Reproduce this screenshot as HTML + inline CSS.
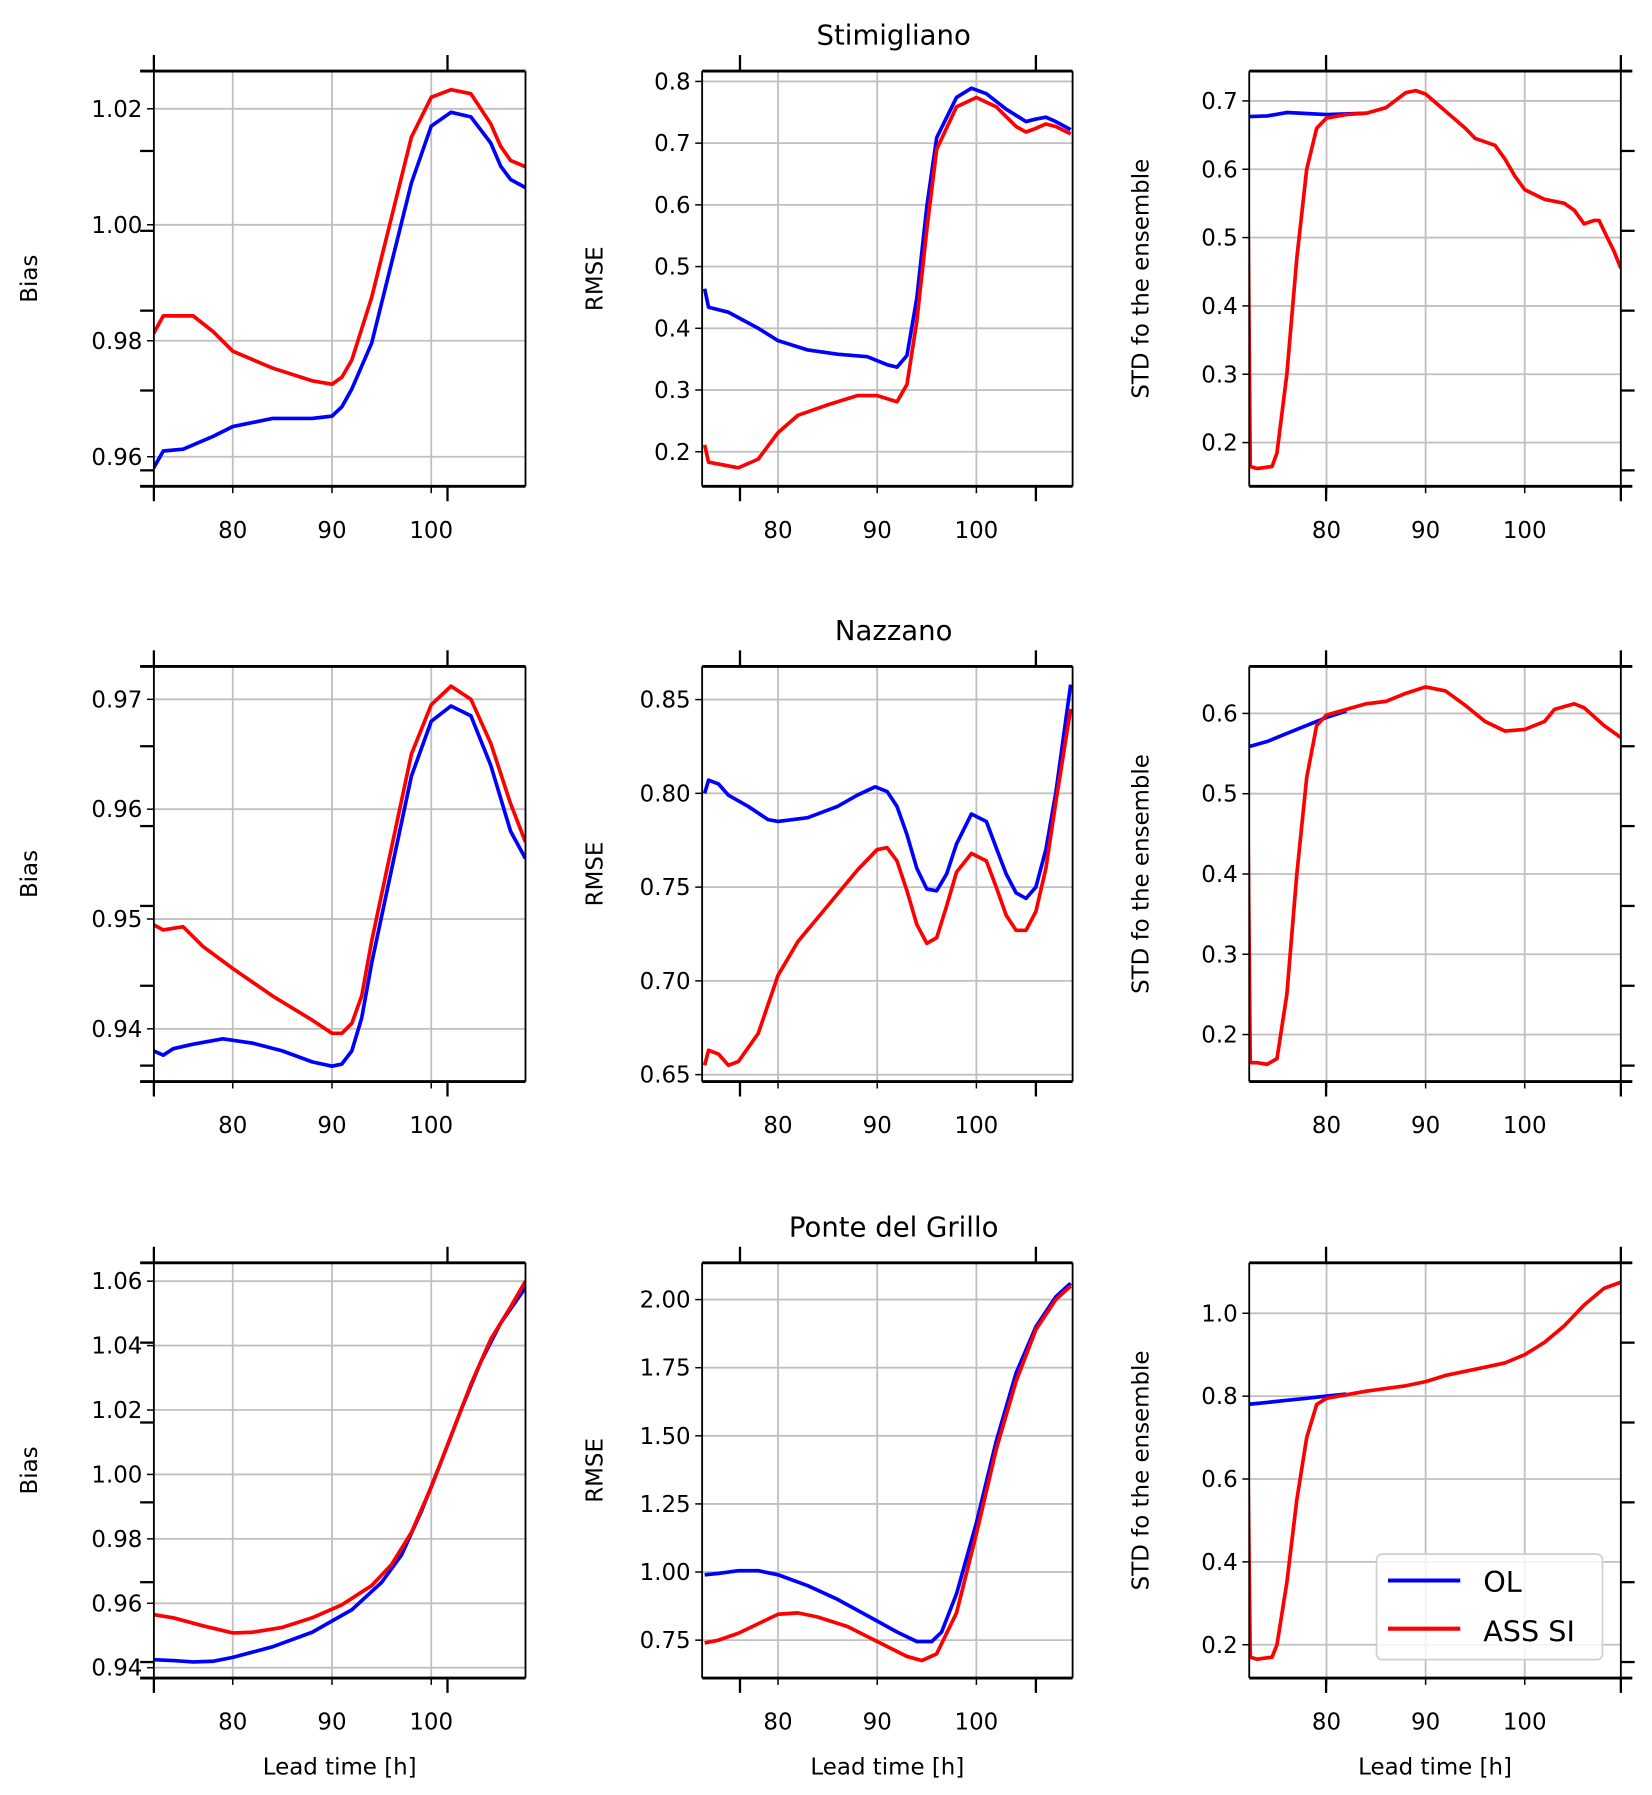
<!DOCTYPE html>
<html><head><meta charset="utf-8"><style>
html,body{margin:0;padding:0;background:#fff;}
svg{display:block;font-family:"DejaVu Sans","Liberation Sans",sans-serif;}
</style></head><body>
<svg id="fig" width="1652" height="1795" viewBox="0 0 1440 1565" xmlns="http://www.w3.org/2000/svg"></svg>
<script>
// ---- data (hours, values) ----
const s1BiasOLx=[72,73,75,78,80,84,88,90,91,92,94,96,98,100,102,104,106,107,108,109.5];
const s1BiasOLy=[0.958,0.961,0.9613,0.9635,0.9652,0.9666,0.9666,0.967,0.9686,0.9717,0.9796,0.9934,1.0072,1.017,1.0194,1.0186,1.0141,1.0101,1.0078,1.0064];
const s1BiasASx=[72,73,76,78,80,84,88,90,91,92,94,96,98,100,102,104,106,107,108,109.5];
const s1BiasASy=[0.9812,0.9843,0.9843,0.9816,0.9782,0.9753,0.9731,0.9725,0.9737,0.9767,0.9875,1.0013,1.0151,1.022,1.0233,1.0226,1.0174,1.0135,1.0111,1.01];
const s1RmseOLx=[72.6,73,75,78,80,83,86,89,91,92,93,94,95,96,98,99.5,101,103,105,106,107,108,109.5];
const s1RmseOLy=[0.464,0.434,0.426,0.40,0.38,0.365,0.358,0.354,0.341,0.337,0.356,0.449,0.597,0.709,0.774,0.789,0.78,0.755,0.735,0.739,0.742,0.735,0.722];
const s1RmseASx=[72.6,73,76,78,80,82,85,88,90,92,93,94,95,96,98,100,102,104,105,106,107,108,109.5];
const s1RmseASy=[0.211,0.183,0.174,0.188,0.231,0.259,0.276,0.291,0.291,0.281,0.309,0.412,0.56,0.69,0.759,0.774,0.759,0.727,0.718,0.724,0.731,0.727,0.715];
const s1StdOLx=[72,74,76,80,84];
const s1StdOLy=[0.677,0.678,0.683,0.68,0.682];
const s1StdASx=[72,72.3,73,74.5,75,76,77,78,79,80,82,84,86,88,89,90,92,94,95,97,98,99,100,102,104,105,106,107,107.5,108,109,109.7];
const s1StdASy=[0.675,0.165,0.162,0.165,0.185,0.30,0.47,0.60,0.66,0.675,0.68,0.682,0.69,0.712,0.715,0.71,0.685,0.66,0.645,0.635,0.615,0.59,0.57,0.556,0.55,0.54,0.52,0.525,0.525,0.51,0.48,0.455];

const s2BiasOLx=[72,73,74,76,79,82,85,88,90,91,92,93,94,96,98,100,102,104,106,108,109.5];
const s2BiasOLy=[0.938,0.9376,0.9382,0.9386,0.9391,0.9387,0.938,0.937,0.9366,0.9368,0.938,0.941,0.946,0.9545,0.963,0.968,0.9694,0.9685,0.964,0.958,0.9555];
const s2BiasASx=[72,73,75,77,80,84,88,90,91,92,93,94,96,98,100,102,104,106,108,109.5];
const s2BiasASy=[0.9495,0.949,0.9493,0.9475,0.9455,0.943,0.9408,0.9396,0.9396,0.9405,0.943,0.948,0.9565,0.965,0.9695,0.9712,0.970,0.966,0.9605,0.957];
const s2RmseOLx=[72.6,73,74,75,77,79,80,83,86,88,89.8,91,92,93,94,95,96,97,98,99.5,101,102,103,104,105,106,107,108,109.5];
const s2RmseOLy=[0.80,0.807,0.805,0.799,0.793,0.786,0.785,0.787,0.793,0.799,0.8035,0.801,0.793,0.778,0.76,0.749,0.748,0.757,0.773,0.789,0.785,0.771,0.757,0.747,0.744,0.75,0.77,0.80,0.858];
const s2RmseASx=[72.6,73,74,75,76,78,80,82,85,88,90,91,92,93,94,95,96,97,98,99.5,101,102,103,104,105,106,107,108,109.5];
const s2RmseASy=[0.655,0.663,0.661,0.655,0.657,0.672,0.703,0.721,0.74,0.759,0.770,0.771,0.764,0.748,0.73,0.72,0.723,0.74,0.758,0.768,0.764,0.75,0.735,0.727,0.727,0.737,0.76,0.795,0.845];
const s2StdOLx=[72,74,76,78,80,82];
const s2StdOLy=[0.558,0.565,0.575,0.585,0.595,0.603];
const s2StdASx=[72,72.3,73,74,75,76,77,78,79,80,82,84,86,88,90,92,94,96,98,100,102,103,105,106,108,109.7];
const s2StdASy=[0.56,0.165,0.165,0.163,0.17,0.25,0.40,0.52,0.585,0.598,0.605,0.612,0.615,0.625,0.633,0.628,0.61,0.59,0.578,0.58,0.59,0.605,0.612,0.607,0.585,0.57];

const s3BiasOLx=[72,74,76,78,80,84,88,92,95,97,99,101,103,105,107,109.5];
const s3BiasOLy=[0.9425,0.9422,0.9418,0.942,0.9432,0.9465,0.951,0.958,0.9665,0.975,0.9885,1.004,1.02,1.035,1.047,1.058];
const s3BiasASx=[72,74,77,80,82,85,88,91,94,96,98,100,102,104,106,108,109.5];
const s3BiasASy=[0.9565,0.9555,0.953,0.9508,0.951,0.9525,0.9555,0.9595,0.9655,0.972,0.982,0.996,1.012,1.028,1.042,1.052,1.06];
const s3RmseOLx=[72.6,74,76,78,80,83,86,89,92,94,95.5,96.5,98,100,102,104,106,108,109.5];
const s3RmseOLy=[0.99,0.995,1.005,1.005,0.99,0.95,0.90,0.84,0.78,0.745,0.745,0.78,0.92,1.18,1.48,1.73,1.90,2.01,2.06];
const s3RmseASx=[72.6,74,76,78,80,82,84,87,90,93,94.5,96,98,100,102,104,106,108,109.5];
const s3RmseASy=[0.74,0.75,0.775,0.81,0.845,0.85,0.835,0.80,0.745,0.69,0.675,0.70,0.85,1.14,1.45,1.70,1.89,2.00,2.05];
const s3StdOLx=[72,74,76,78,80,82];
const s3StdOLy=[0.78,0.785,0.79,0.795,0.80,0.805];
const s3StdASx=[72,72.3,73,74.5,75,76,77,78,79,80,84,88,90,92,94,96,98,100,102,104,106,108,109.7];
const s3StdASy=[0.78,0.17,0.165,0.17,0.2,0.35,0.55,0.70,0.78,0.795,0.812,0.825,0.835,0.85,0.86,0.87,0.88,0.9,0.93,0.97,1.02,1.06,1.075];

const xTicks=[80,90,100];
const titles=["Stimigliano","Nazzano","Ponte del Grillo"];
const biasTicks1=[0.96,0.98,1.00,1.02], rmseTicks1=[0.2,0.3,0.4,0.5,0.6,0.7,0.8], stdTicks1=[0.2,0.3,0.4,0.5,0.6,0.7];
const biasTicks2=[0.94,0.95,0.96,0.97], rmseTicks2=[0.65,0.70,0.75,0.80,0.85], stdTicks2=[0.2,0.3,0.4,0.5,0.6];
const biasTicks3=[0.94,0.96,0.98,1.00,1.02,1.04,1.06], rmseTicks3=[0.75,1.00,1.25,1.50,1.75,2.00], stdTicks3=[0.2,0.4,0.6,0.8,1.0];

const NS="http://www.w3.org/2000/svg";
const svg=document.getElementById('fig');
function mk(tag,attrs,parent){const e=document.createElementNS(NS,tag);for(const k in attrs)e.setAttribute(k,attrs[k]);(parent||svg).appendChild(e);return e;}

const cols=[{x0:134,x1:458,xl:[72.05,109.5],lab:"Bias",lx:32,tw:[134,390]},
            {x0:612,x1:935,xl:[72.35,109.7],lab:"RMSE",lx:525,tw:[645,903]},
            {x0:1089,x1:1413,xl:[72.2,109.7],lab:"STD fo the ensemble",lx:1001,tw:[1156,1413]}];
const rows=[{y0:62,y1:424},{y0:581,y1:943},{y0:1101,y1:1463}];
const panels=[
 [[0.9549,1.0265],biasTicks1,2,s1BiasOLx,s1BiasOLy,s1BiasASx,s1BiasASy],
 [[0.144,0.8167],rmseTicks1,1,s1RmseOLx,s1RmseOLy,s1RmseASx,s1RmseASy],
 [[0.136,0.7436],stdTicks1,1,s1StdOLx,s1StdOLy,s1StdASx,s1StdASy],
 [[0.9352,0.973],biasTicks2,2,s2BiasOLx,s2BiasOLy,s2BiasASx,s2BiasASy],
 [[0.6463,0.8677],rmseTicks2,2,s2RmseOLx,s2RmseOLy,s2RmseASx,s2RmseASy],
 [[0.1414,0.6586],stdTicks2,1,s2StdOLx,s2StdOLy,s2StdASx,s2StdASy],
 [[0.9368,1.0657],biasTicks3,2,s3BiasOLx,s3BiasOLy,s3BiasASx,s3BiasASy],
 [[0.611,2.135],rmseTicks3,2,s3RmseOLx,s3RmseOLy,s3RmseASx,s3RmseASy],
 [[0.1197,1.1218],stdTicks3,1,s3StdOLx,s3StdOLy,s3StdASx,s3StdASy]];

panels.forEach((p,i)=>{
 const r=Math.floor(i/3), c=i%3, C=cols[c], R=rows[r];
 const g=mk('g',{});
 
 
 const sx=v=>C.x0+(v-C.xl[0])/(C.xl[1]-C.xl[0])*(C.x1-C.x0);
 const sy=v=>R.y1-(v-p[0][0])/(p[0][1]-p[0][0])*(R.y1-R.y0);
 const cp=mk('clipPath',{id:'cp'+i},g);
 mk('rect',{x:C.x0,y:R.y0,width:C.x1-C.x0,height:R.y1-R.y0},cp);
 xTicks.forEach(t=>{const x=sx(t);
  const gl=mk('line',{x1:x,x2:x,y1:R.y0,y2:R.y1,stroke:'#c0c0c0','stroke-width':1.6},g);
  
  
  mk('line',{x1:x,x2:x,y1:R.y1,y2:R.y1+6,stroke:'#000','stroke-width':1.3},g);
  const tl=mk('text',{x:x,y:R.y1+45,'text-anchor':'middle','font-size':20},g);tl.textContent=t;
  
  });
 p[1].forEach(t=>{const y=sy(t);
  const gl=mk('line',{x1:C.x0,x2:C.x1,y1:y,y2:y,stroke:'#c0c0c0','stroke-width':1.6},g);
  
  
  mk('line',{x1:C.x0-6,x2:C.x0,y1:y,y2:y,stroke:'#000','stroke-width':1.3},g);
  const tl=mk('text',{x:C.x0-10,y:y+7,'text-anchor':'end','font-size':20},g);tl.textContent=t.toFixed(p[2]);
  
  });
 [[p[3],p[4],'#0000ff','series-ol'],[p[5],p[6],'#ff0000','series-ass-si']].forEach(s=>{
  const d=s[0].map((x,k)=>(k?'L':'M')+sx(x).toFixed(1)+','+sy(s[1][k]).toFixed(1)).join('');
  const pl=mk('path',{d:d,fill:'none',stroke:s[2],'stroke-width':3.2,'stroke-linejoin':'round','clip-path':'url(#cp'+i+')'},g);
  
  });
 const extL=c===0?12:0;
 mk('line',{x1:C.x0-extL,x2:C.x1+(c===2?10:0),y1:R.y0,y2:R.y0,stroke:'#000','stroke-width':2.5},g);
 mk('line',{x1:C.x0-extL,x2:C.x1+(c===2?10:0),y1:R.y1,y2:R.y1,stroke:'#000','stroke-width':2.5},g);
 mk('line',{x1:C.x0,x2:C.x0,y1:R.y0,y2:R.y1,stroke:'#000','stroke-width':1.6},g);
 mk('line',{x1:C.x1,x2:C.x1,y1:R.y0,y2:R.y1,stroke:'#000','stroke-width':1.6},g);
 C.tw.forEach(x=>{mk('line',{x1:x,x2:x,y1:R.y0-14,y2:R.y0,stroke:'#000','stroke-width':2},g);
  mk('line',{x1:x,x2:x,y1:R.y1,y2:R.y1+13,stroke:'#000','stroke-width':2},g);});
 for(let k=1;k<6;k++){const y=R.y0+k*(R.y1-R.y0)/5.2;
  if(c===0)mk('line',{x1:C.x0-12,x2:C.x0,y1:y,y2:y,stroke:'#000','stroke-width':2},g);
  if(c===2)mk('line',{x1:C.x1,x2:C.x1+12,y1:y,y2:y,stroke:'#000','stroke-width':2},g);}
 const cy=(R.y0+R.y1)/2;
 const yl=mk('text',{x:C.lx,y:cy,'text-anchor':'middle','font-size':20,transform:'rotate(-90 '+C.lx+' '+cy+')'},g);
 yl.textContent=C.lab;
 
 
 if(r===2){const xl=mk('text',{x:(C.x0+C.x1)/2,y:1547,'text-anchor':'middle','font-size':20},g);xl.textContent='Lead time [h]';
  
  }
 if(c===1){const tt=mk('text',{x:779,y:R.y0-23,'text-anchor':'middle','font-size':24},g);tt.textContent=titles[r];
  
  }
});
const lg=mk('g',{});


mk('rect',{x:1200,y:1355,width:197,height:92,rx:5,fill:'#fff','fill-opacity':0.8,stroke:'#d0d0d0','stroke-width':1.5},lg);
mk('line',{x1:1210,x2:1273,y1:1378,y2:1378,stroke:'#0000ff','stroke-width':3.5},lg);
mk('line',{x1:1210,x2:1273,y1:1420,y2:1420,stroke:'#ff0000','stroke-width':3.5},lg);
const t1=mk('text',{x:1293,y:1388,'font-size':25},lg);t1.textContent='OL';


const t2=mk('text',{x:1293,y:1431,'font-size':25},lg);t2.textContent='ASS SI';


</script>
</body></html>
